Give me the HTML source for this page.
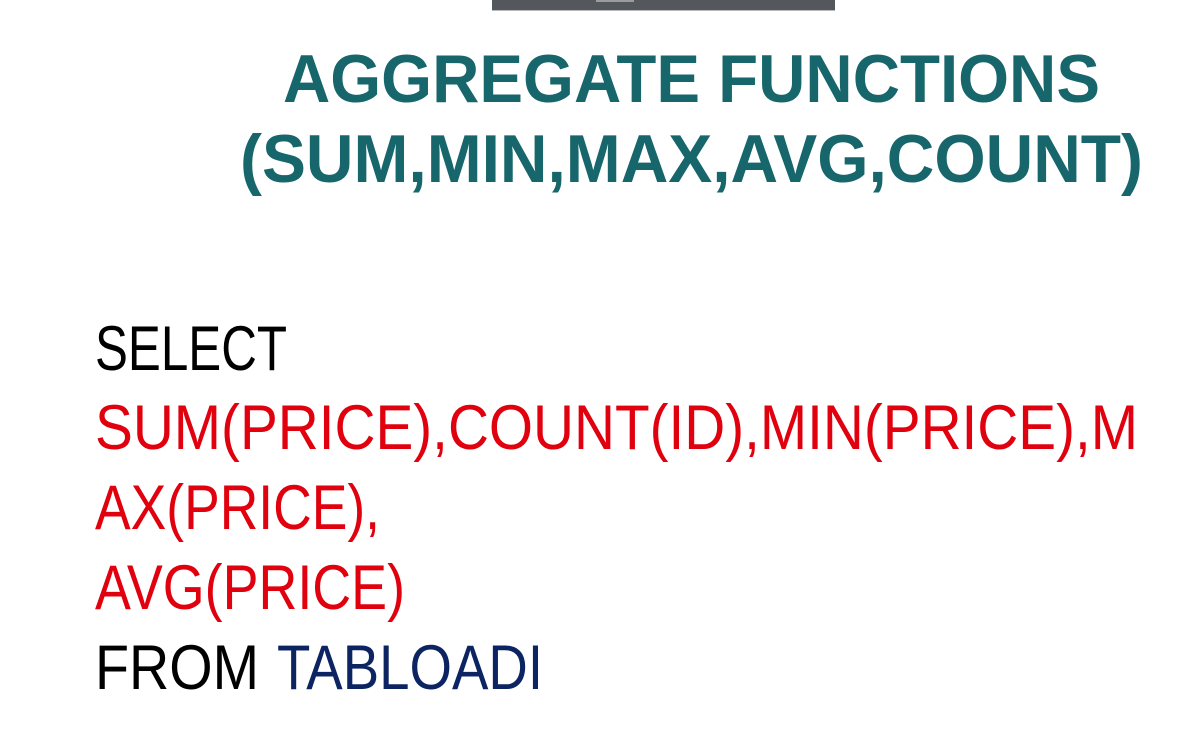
<!DOCTYPE html>
<html><head><meta charset="utf-8"><style>
html,body{margin:0;padding:0;background:#fff;}
svg{display:block;}
</style></head><body>
<svg width="1196" height="745" viewBox="0 0 1196 745">
<rect x="0" y="0" width="1196" height="745" fill="#ffffff"/>
<rect x="492" y="0" width="343" height="10" fill="#54575b"/>
<rect x="492" y="10" width="343" height="1" fill="#b8b9bb"/>
<rect x="596" y="0" width="38" height="2" fill="#9a9c9f"/>
<g font-family="'Liberation Sans', sans-serif" font-weight="bold" fill="#17666b">
<text x="283" y="102" font-size="68" textLength="817" lengthAdjust="spacingAndGlyphs">AGGREGATE  FUNCTIONS</text>
<text x="240" y="182" font-size="68" textLength="903" lengthAdjust="spacingAndGlyphs">(SUM,MIN,MAX,AVG,COUNT)</text>
</g>
<g font-family="'Liberation Sans', sans-serif" font-size="63">
<text x="95" y="370" fill="#000" textLength="192" lengthAdjust="spacingAndGlyphs">SELECT</text>
<text x="95" y="449" fill="#e0000e" textLength="1043" lengthAdjust="spacingAndGlyphs">SUM(PRICE),COUNT(ID),MIN(PRICE),M</text>
<text x="95" y="529" fill="#e0000e" textLength="285" lengthAdjust="spacingAndGlyphs">AX(PRICE),</text>
<text x="95" y="609" fill="#e0000e" textLength="310" lengthAdjust="spacingAndGlyphs">AVG(PRICE)</text>
<text x="95" y="689" fill="#000" textLength="164" lengthAdjust="spacingAndGlyphs">FROM</text>
<text x="277" y="689" fill="#0d2463" textLength="266" lengthAdjust="spacingAndGlyphs">TABLOADI</text>
</g>
</svg>
</body></html>
